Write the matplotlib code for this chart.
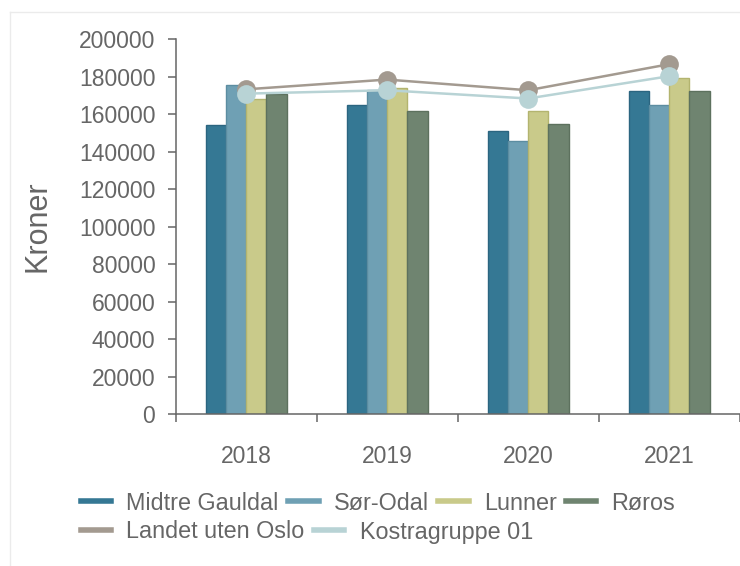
import matplotlib
matplotlib.use("Agg")
import matplotlib.pyplot as plt
from matplotlib.lines import Line2D
import numpy as np

plt.rcParams['font.family'] = ['Liberation Sans', 'DejaVu Sans']

years = ['2018', '2019', '2020', '2021']
bar_names = ['Midtre Gauldal', 'Sør-Odal', 'Lunner', 'Røros']
midtre_gauldal = [154100, 164800, 150900, 172300]
sor_odal = [175800, 173200, 145600, 164800]
lunner = [168400, 174200, 161600, 179600]
roros = [171000, 161800, 155000, 172300]
landet_uten_oslo = [173300, 178500, 172800, 186700]
kostragruppe_01 = [171000, 172800, 168400, 180300]

bar_colors = ['#357894', '#6fa0b4', '#c9ca8a', '#6f8470']
bar_edges = ['#2b6580', '#5c8da1', '#b3b46f', '#5d715e']
landet_color = '#a39a90'
kostra_color = '#b8d3d5'
text_color = '#666666'
axis_color = '#666666'

W, H = 740, 566
fig = plt.figure(figsize=(W / 100, H / 100), dpi=100)

# light frame around the chart (left and top edges only are visible)
fig.add_artist(Line2D([10 / W, 10 / W], [0, 1 - 12 / H], transform=fig.transFigure,
                      color='#ebebeb', lw=1))
fig.add_artist(Line2D([10 / W, 1], [1 - 12 / H, 1 - 12 / H], transform=fig.transFigure,
                      color='#ebebeb', lw=1))

ax = fig.add_axes([175.5 / W, (H - 414) / H, (739.6 - 175.5) / W, (414 - 39.3) / H])

x = np.arange(len(years))
w = 0.1436
series = [midtre_gauldal, sor_odal, lunner, roros]
for i, vals in enumerate(series):
    ax.bar(x + (i - 1.5) * w, vals, width=w, color=bar_colors[i],
           edgecolor=bar_edges[i], linewidth=1, zorder=2)

ax.plot(x, landet_uten_oslo, color=landet_color, lw=1.8, marker='o', ms=13.5,
        markeredgewidth=0, zorder=3)
ax.plot(x, kostragruppe_01, color=kostra_color, lw=1.8, marker='o', ms=13.5,
        markeredgewidth=0, zorder=4)

ax.set_xlim(-0.5, 3.5)
ax.set_ylim(0, 200000)
ax.set_yticks(np.arange(0, 200001, 20000))
ax.set_yticklabels([str(v) for v in range(0, 200001, 20000)])

ax.set_xticks(np.arange(-0.5, 3.6, 1))
ax.set_xticklabels([])
ax.set_xticks(x, minor=True)
ax.set_xticklabels(years, minor=True)

for s in ['top', 'right']:
    ax.spines[s].set_visible(False)
for s in ['left', 'bottom']:
    ax.spines[s].set_color(axis_color)
    ax.spines[s].set_linewidth(1.1)

ax.tick_params(axis='y', length=6, width=1.1, color=axis_color, pad=8.5,
               labelsize=16.5, labelcolor=text_color)
ax.tick_params(axis='x', which='major', length=6, width=1.1, color=axis_color)
ax.tick_params(axis='x', which='minor', length=0, pad=22,
               labelsize=16.5, labelcolor=text_color)

fig.text(38 / W, 1 - 226 / H, 'Kroner', rotation=90, ha='center', va='center',
         fontsize=22, color=text_color)

# legend laid out as two flowing rows
row1 = [Line2D([], [], color=c, lw=4) for c in bar_colors]
row2 = [Line2D([], [], color=landet_color, lw=4), Line2D([], [], color=kostra_color, lw=4)]
leg_kw = dict(loc='center left', frameon=False, borderpad=0, borderaxespad=0,
              handlelength=1.3, handletextpad=0.65, columnspacing=0.4,
              fontsize=16.8, labelcolor=text_color)
fig.legend(row1, bar_names, ncol=4, bbox_to_anchor=(81 / W, 1 - 503 / H), **leg_kw)
fig.legend(row2, ['Landet uten Oslo', 'Kostragruppe 01'], ncol=2,
           bbox_to_anchor=(81 / W, 1 - 532 / H), **leg_kw)

fig.savefig('out.png', dpi=100)
